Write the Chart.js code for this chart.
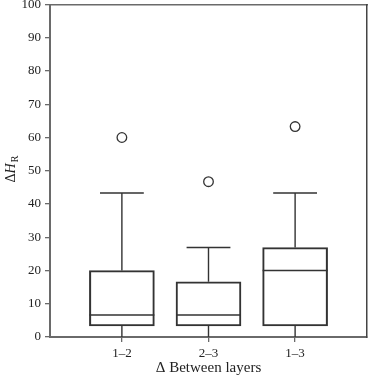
<!DOCTYPE html>
<html>
<head>
<meta charset="utf-8">
<script src="https://cdn.jsdelivr.net/npm/chart.js@4/dist/chart.umd.min.js"></script>
<style>
html,body{margin:0;padding:0;background:#fff;}
#wrap{width:368px;height:377px;position:relative;}
</style>
</head>
<body>
<div id="wrap"><canvas id="c" width="368" height="377"></canvas></div>
<script>
// ---- data ----
const categories = ["1\u20132", "2\u20133", "1\u20133"];
const whiskerLow  = [0, 0, 0];
const quartile1   = [3.3, 3.3, 3.3];
const medians     = [6.6, 6.6, 20];
const quartile3   = [20, 16.6, 26.9];
const whiskerHigh = [43.3, 26.9, 43.3];
const outliers    = [60, 46.7, 63.3];
const yTicks      = [0, 10, 20, 30, 40, 50, 60, 70, 80, 90, 100];

const ink = '#333333';
const axisGrey = '#6a6a6a';
const serif = "'Liberation Serif', 'DejaVu Serif', serif";

const boxHalf = 0.375, capHalf = 0.253;
const medianPts = [], whiskerPts = [], capPts = [];
categories.forEach((c, i) => {
  const x = i + 1;
  medianPts.push({x: x - boxHalf, y: medians[i]}, {x: x + boxHalf, y: medians[i]}, {x: x, y: null});
  whiskerPts.push({x: x, y: quartile3[i]}, {x: x, y: whiskerHigh[i]}, {x: x, y: null});
  whiskerPts.push({x: x, y: quartile1[i]}, {x: x, y: whiskerLow[i]}, {x: x, y: null});
  capPts.push({x: x - capHalf, y: whiskerHigh[i]}, {x: x + capHalf, y: whiskerHigh[i]}, {x: x, y: null});
});

const lineDs = (data) => ({
  type: 'line', data, borderColor: ink, borderWidth: 1.4, pointRadius: 0,
  tension: 0, spanGaps: false, fill: false, clip: false
});

const yTitlePlugin = {
  id: 'yTitle',
  afterDraw(chart) {
    const ctx = chart.ctx;
    ctx.save();
    ctx.translate(15, 169);
    ctx.rotate(-Math.PI / 2);
    ctx.fillStyle = '#222';
    ctx.textBaseline = 'alphabetic';
    const f1 = "14px " + serif, f2 = "italic 14px " + serif, f3 = "10px " + serif;
    ctx.font = f1; const w1 = ctx.measureText('\u0394').width;
    ctx.font = f2; const w2 = ctx.measureText('H').width;
    ctx.font = f3; const w3 = ctx.measureText('R').width;
    let x = -(w1 + w2 + w3 + 1) / 2;
    ctx.font = f1; ctx.fillText('\u0394', x, 0); x += w1;
    ctx.font = f2; ctx.fillText('H', x, 0); x += w2 + 1;
    ctx.font = f3; ctx.fillText('R', x, 3);
    ctx.restore();
  }
};

const noPad = (s) => { s.paddingTop = 0; s.paddingBottom = 0; s.paddingLeft = 0; s.paddingRight = 0; };

new Chart(document.getElementById('c'), {
  type: 'scatter',
  data: {
    datasets: [
      {
        type: 'bar',
        data: categories.map((c, i) => ({x: i + 1, y: [quartile1[i], quartile3[i]]})),
        backgroundColor: 'rgba(0,0,0,0)',
        borderColor: ink, borderWidth: 1.4, borderSkipped: false,
        barThickness: 65
      },
      lineDs(medianPts),
      lineDs(whiskerPts),
      lineDs(capPts),
      {
        type: 'scatter',
        data: categories.map((c, i) => ({x: i + 1, y: outliers[i]})),
        pointStyle: 'circle', pointRadius: 4.8, pointBorderWidth: 1.3,
        pointBackgroundColor: '#fff', pointBorderColor: ink, clip: false
      }
    ]
  },
  options: {
    responsive: false,
    animation: false,
    events: [],
    layout: {autoPadding: false, padding: {top: 4.5, right: 1, left: 0, bottom: 0}},
    plugins: {legend: {display: false}, tooltip: {enabled: false}},
    scales: {
      x: {
        type: 'linear', position: 'bottom', min: 0.17, max: 3.83, offset: false,
        afterBuildTicks: (s) => { s.ticks = categories.map((c, i) => ({value: i + 1})); },
        afterFit: (s) => { s.height = 40; noPad(s); },
        ticks: {
          callback: (v) => categories[Math.round(v) - 1] || '',
          font: {family: serif, size: 13}, color: '#222', padding: 4, maxRotation: 0, autoSkip: false
        },
        grid: {display: true, offset: false, drawOnChartArea: false, drawTicks: true, tickLength: 5, color: axisGrey, lineWidth: 1.3},
        border: {display: true, color: axisGrey, width: 2},
        title: {display: true, text: '\u0394 Between layers', font: {family: serif, size: 15}, color: '#222', padding: {top: 0, bottom: 0}}
      },
      y: {
        type: 'linear', position: 'left', min: 0, max: 100, offset: false,
        afterBuildTicks: (s) => { s.ticks = yTicks.map(v => ({value: v})); },
        afterFit: (s) => { s.width = 50; noPad(s); },
        ticks: {font: {family: serif, size: 13}, color: '#222', padding: 4, autoSkip: false},
        grid: {display: true, offset: false, drawOnChartArea: false, drawTicks: true, tickLength: 5, color: axisGrey, lineWidth: 1.3},
        border: {display: true, color: axisGrey, width: 2}
      },
      xTop: {
        type: 'linear', position: 'top', display: true, offset: false,
        ticks: {display: false}, grid: {display: false},
        border: {display: true, color: axisGrey, width: 1.5},
        afterFit: (s) => { s.height = 0; noPad(s); }
      },
      yRight: {
        type: 'linear', position: 'right', display: true, offset: false,
        ticks: {display: false}, grid: {display: false},
        border: {display: true, color: '#444', width: 1.5},
        afterFit: (s) => { s.width = 0; noPad(s); }
      }
    }
  },
  plugins: [yTitlePlugin]
});
</script>
</body>
</html>
